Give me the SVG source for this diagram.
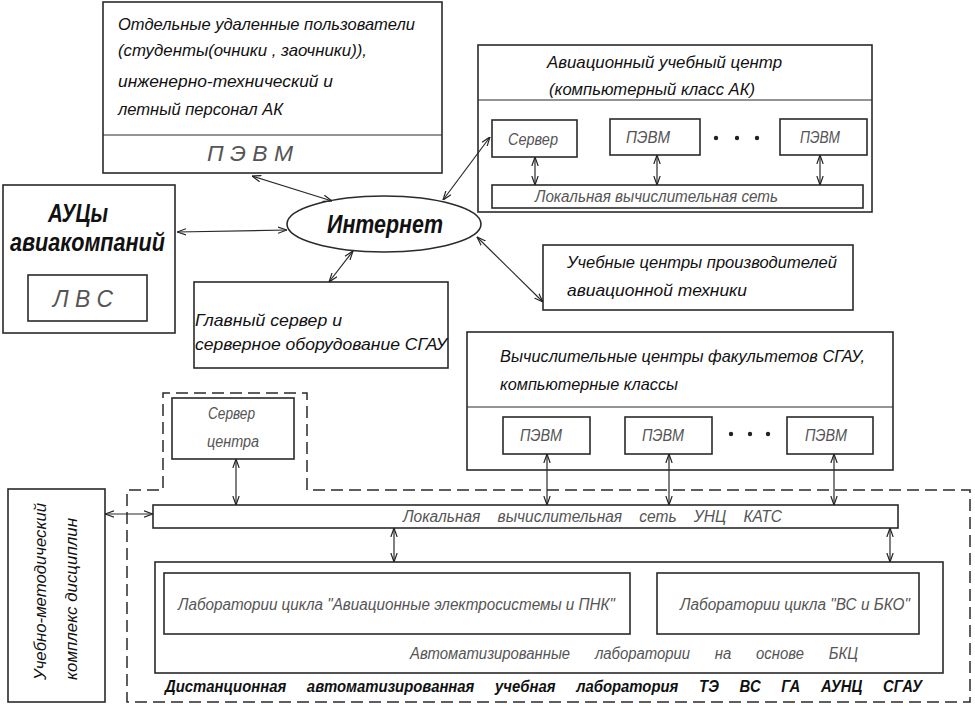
<svg xmlns="http://www.w3.org/2000/svg" width="975" height="706" viewBox="0 0 975 706">
<style>
.bx{fill:#fff;stroke:#2a2a2a;stroke-width:1.6}
.ln{fill:none;stroke:#2a2a2a;stroke-width:1.2}
.t{font-family:"Liberation Sans","DejaVu Sans",sans-serif;font-style:italic;fill:#111;font-size:17px}
.b{font-weight:bold}
.g{fill:#555;font-size:16px}
.dash{fill:none;stroke:#2a2a2a;stroke-width:1.5;stroke-dasharray:12 6}
</style>
<defs>
<marker id="a" viewBox="0 0 10 10" refX="10" refY="5" markerWidth="9" markerHeight="9" markerUnits="userSpaceOnUse" orient="auto-start-reverse">
<path d="M0,1.5 L10,5 L0,8.5" fill="none" stroke="#222" stroke-width="1.3"/>
</marker>
</defs>
<rect width="975" height="706" fill="#fff"/>

<path id="outer-dashed" class="dash" d="M307,490 L307,393 L163,393 L163,490 L127,490 L127,702 L970,702 L970,490 Z"/>

<g id="users">
<rect class="bx" x="103" y="2" width="339" height="171"/>
<line class="ln" x1="103" y1="135" x2="442" y2="135"/>
<text class="t" x="118" y="30" textLength="297" lengthAdjust="spacingAndGlyphs">Отдельные удаленные пользователи</text>
<text class="t" x="118" y="56" textLength="249" lengthAdjust="spacingAndGlyphs">(студенты(очники , заочники)),</text>
<text class="t" x="118" y="87" textLength="215" lengthAdjust="spacingAndGlyphs">инженерно-технический и</text>
<text class="t" x="118" y="115" textLength="165" lengthAdjust="spacingAndGlyphs">летный персонал АК</text>
<text class="t g" x="207" y="161" style="font-size:22px" textLength="86" lengthAdjust="spacingAndGlyphs">П Э В М</text>
</g>

<g id="aviation-center">
<rect class="bx" x="478" y="45" width="394" height="167"/>
<line class="ln" x1="478" y1="100" x2="872" y2="100"/>
<text class="t" x="547" y="68" textLength="235" lengthAdjust="spacingAndGlyphs">Авиационный учебный центр</text>
<text class="t" x="549" y="95" textLength="206" lengthAdjust="spacingAndGlyphs">(компьютерный класс АК)</text>
<rect class="bx" x="492" y="120" width="85" height="37"/>
<text class="t g" x="508" y="145" textLength="50" lengthAdjust="spacingAndGlyphs">Сервер</text>
<rect class="bx" x="610" y="119" width="90" height="36"/>
<text class="t g" x="626" y="143" textLength="44" lengthAdjust="spacingAndGlyphs">ПЭВМ</text>
<rect class="bx" x="780" y="119" width="87" height="36"/>
<text class="t g" x="800" y="143" textLength="40" lengthAdjust="spacingAndGlyphs">ПЭВМ</text>
<circle cx="716" cy="138" r="2.2" fill="#222"/>
<circle cx="737" cy="138" r="2.2" fill="#222"/>
<circle cx="757" cy="138" r="2.2" fill="#222"/>
<rect class="bx" x="492" y="185" width="371" height="23"/>
<text class="t g" x="535" y="202" textLength="243" lengthAdjust="spacingAndGlyphs">Локальная вычислительная сеть</text>
</g>

<g id="airline-centers">
<rect class="bx" x="3" y="185" width="172" height="148"/>
<text class="t b" x="48" y="222" style="font-size:26px" textLength="60" lengthAdjust="spacingAndGlyphs">АУЦы</text>
<text class="t b" x="10" y="251" style="font-size:26px" textLength="155" lengthAdjust="spacingAndGlyphs">авиакомпаний</text>
<rect class="bx" x="28" y="275" width="119" height="46"/>
<text class="t g" x="53" y="307" style="font-size:24px" textLength="60" lengthAdjust="spacingAndGlyphs">Л В С</text>
</g>

<g id="internet">
<ellipse cx="384" cy="224" rx="97" ry="28" fill="#fff" stroke="#2a2a2a" stroke-width="1.6"/>
<text class="t b" x="327" y="233" style="font-size:25px" textLength="116" lengthAdjust="spacingAndGlyphs">Интернет</text>
</g>

<g id="main-server">
<rect class="bx" x="194" y="282" width="254" height="86"/>
<text class="t" x="195" y="326" textLength="147" lengthAdjust="spacingAndGlyphs">Главный сервер и</text>
<text class="t" x="195" y="350" textLength="252" lengthAdjust="spacingAndGlyphs">серверное оборудование СГАУ</text>
</g>

<g id="manufacturers">
<rect class="bx" x="543" y="245" width="310" height="65"/>
<text class="t" x="567" y="268" textLength="270" lengthAdjust="spacingAndGlyphs">Учебные центры производителей</text>
<text class="t" x="567" y="296" textLength="180" lengthAdjust="spacingAndGlyphs">авиационной техники</text>
</g>

<g id="faculty-centers">
<rect class="bx" x="467" y="332" width="426" height="138"/>
<line class="ln" x1="467" y1="407" x2="893" y2="407"/>
<text class="t" x="500" y="362" textLength="365" lengthAdjust="spacingAndGlyphs">Вычислительные центры факультетов СГАУ,</text>
<text class="t" x="500" y="390" textLength="178" lengthAdjust="spacingAndGlyphs">компьютерные классы</text>
<rect class="bx" x="503" y="417" width="87" height="37"/>
<text class="t g" x="520" y="441" textLength="42" lengthAdjust="spacingAndGlyphs">ПЭВМ</text>
<rect class="bx" x="625" y="417" width="87" height="37"/>
<text class="t g" x="642" y="441" textLength="42" lengthAdjust="spacingAndGlyphs">ПЭВМ</text>
<rect class="bx" x="787" y="417" width="86" height="37"/>
<text class="t g" x="805" y="441" textLength="42" lengthAdjust="spacingAndGlyphs">ПЭВМ</text>
<circle cx="731" cy="434" r="2.2" fill="#222"/>
<circle cx="750" cy="434" r="2.2" fill="#222"/>
<circle cx="768" cy="434" r="2.2" fill="#222"/>
</g>

<g id="center-server">
<rect class="bx" x="172" y="398" width="122" height="61"/>
<text class="t g" x="208" y="419" textLength="47" lengthAdjust="spacingAndGlyphs">Сервер</text>
<text class="t g" x="207" y="447" textLength="52" lengthAdjust="spacingAndGlyphs">центра</text>
</g>

<g id="methodical-complex">
<rect class="bx" x="8" y="489" width="97" height="213"/>
<text class="t" transform="translate(46,680) rotate(-90)" textLength="177" lengthAdjust="spacingAndGlyphs">Учебно-методический</text>
<text class="t" transform="translate(77,680) rotate(-90)" textLength="162" lengthAdjust="spacingAndGlyphs">комплекс дисциплин</text>
</g>

<g id="lan-unc">
<rect class="bx" x="153" y="505" width="745" height="23"/>
<text class="t g" xml:space="preserve" x="403" y="522" textLength="379" lengthAdjust="spacingAndGlyphs">Локальная    вычислительная    сеть    УНЦ    КАТС</text>
</g>

<g id="labs">
<rect class="bx" x="155" y="562" width="788" height="111"/>
<rect class="bx" x="164" y="573" width="466" height="61"/>
<text class="t g" x="178" y="610" textLength="437" lengthAdjust="spacingAndGlyphs">Лаборатории цикла "Авиационные электросистемы и ПНК"</text>
<rect class="bx" x="657" y="573" width="262" height="61"/>
<text class="t g" x="680" y="610" textLength="230" lengthAdjust="spacingAndGlyphs">Лаборатории цикла "ВС и БКО"</text>
<text class="t g" xml:space="preserve" x="410" y="659" textLength="448" lengthAdjust="spacingAndGlyphs">Автоматизированные      лаборатории      на      основе      БКЦ</text>
</g>

<text id="distance-lab" class="t b" xml:space="preserve" x="165" y="692" style="font-size:16px" textLength="757" lengthAdjust="spacingAndGlyphs">Дистанционная     автоматизированная     учебная     лаборатория     ТЭ     ВС     ГА     АУНЦ     СГАУ</text>

<g id="connectors" class="ln">
<line x1="252" y1="176" x2="332" y2="201" marker-start="url(#a)" marker-end="url(#a)"/>
<line x1="443" y1="200" x2="490" y2="137" marker-start="url(#a)" marker-end="url(#a)"/>
<line x1="287" y1="230" x2="177" y2="232" marker-start="url(#a)" marker-end="url(#a)"/>
<line x1="353" y1="251" x2="329" y2="282" marker-start="url(#a)" marker-end="url(#a)"/>
<line x1="477" y1="237" x2="543" y2="302" marker-start="url(#a)" marker-end="url(#a)"/>
<line x1="535" y1="157" x2="535" y2="185" marker-start="url(#a)" marker-end="url(#a)"/>
<line x1="657" y1="155" x2="657" y2="185" marker-start="url(#a)" marker-end="url(#a)"/>
<line x1="820" y1="155" x2="820" y2="185" marker-start="url(#a)" marker-end="url(#a)"/>
<line x1="547" y1="454" x2="547" y2="505" marker-start="url(#a)" marker-end="url(#a)"/>
<line x1="669" y1="454" x2="669" y2="505" marker-start="url(#a)" marker-end="url(#a)"/>
<line x1="834" y1="454" x2="834" y2="505" marker-start="url(#a)" marker-end="url(#a)"/>
<line x1="236" y1="459" x2="236" y2="505" marker-start="url(#a)" marker-end="url(#a)"/>
<line x1="105" y1="514" x2="153" y2="514" marker-start="url(#a)" marker-end="url(#a)"/>
<line x1="394" y1="528" x2="394" y2="562" marker-start="url(#a)" marker-end="url(#a)"/>
<line x1="890" y1="528" x2="890" y2="562" marker-start="url(#a)" marker-end="url(#a)"/>
</g>
</svg>
